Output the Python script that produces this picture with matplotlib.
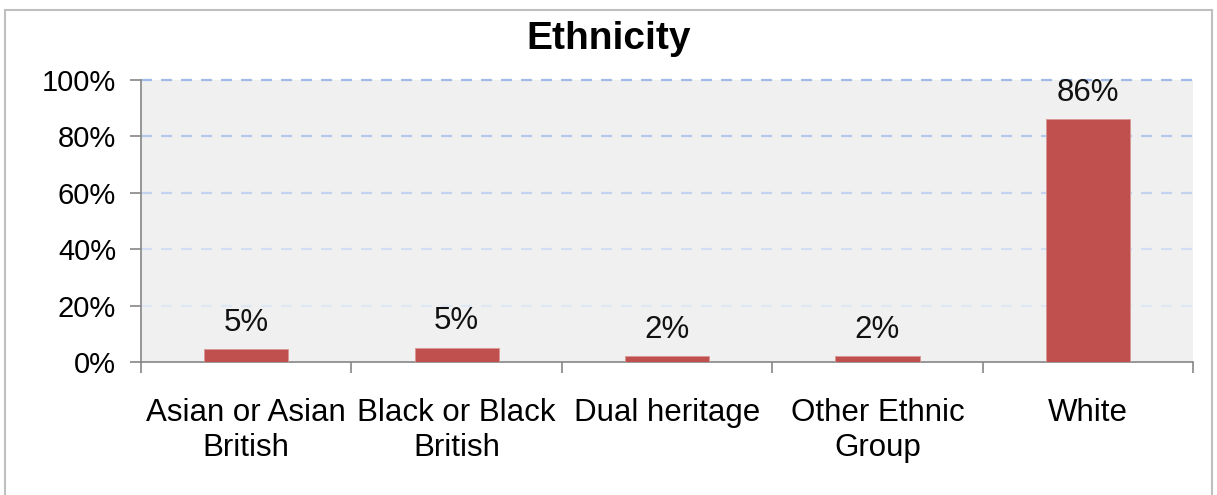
import numpy as np
import matplotlib
matplotlib.use("Agg")
import matplotlib.pyplot as plt
from matplotlib.patches import Rectangle
from matplotlib.ticker import FixedLocator, PercentFormatter

categories = ["Asian or Asian\nBritish", "Black or Black\nBritish", "Dual heritage",
              "Other Ethnic\nGroup", "White"]
values = [4.6, 5.1, 2.0, 2.0, 86.0]
labels = ["5%", "5%", "2%", "2%", "86%"]
yticks = [0, 20, 40, 60, 80, 100]

plt.rcParams["font.family"] = ["Liberation Sans", "DejaVu Sans"]

fig = plt.figure(figsize=(12.17, 4.95), dpi=100)
fig.patches.append(Rectangle((0.004, -0.05), 0.992, 1.03, transform=fig.transFigure,
                             fill=False, edgecolor="#BFBFBF", linewidth=1.5))
ax = fig.add_axes([0.1159, 0.2687, 0.8644, 0.5697])
ax.set_facecolor("#F0F0F0")

x = np.arange(len(categories))
ax.bar(x, values, width=0.4, color="#C0504D", edgecolor="#D99694", linewidth=0.6, zorder=3)
for xi, v, lab in zip(x, values, labels):
    ax.text(xi, v + 4, lab, ha="center", va="bottom", fontsize=22.5, color="#111111", zorder=4)

# gridlines fade from top to bottom
grid_cols = {20: "#E0E7F4", 40: "#D2DEF3", 60: "#C3D3EF", 80: "#B3C8EC", 100: "#A1BBE8"}
for yv, c in grid_cols.items():
    ax.axhline(yv, color=c, linestyle=(0, (5, 4)), linewidth=1.6, zorder=1, clip_on=False)

ax.set_xlim(-0.5, len(categories) - 0.5)
ax.set_ylim(0, 100)
ax.yaxis.set_major_locator(FixedLocator(yticks))
ax.yaxis.set_major_formatter(PercentFormatter(decimals=0))
ax.set_xticks(x)
ax.set_xticklabels(categories, fontsize=22.5, linespacing=1.2)
ax.tick_params(axis="x", length=0, pad=26)
ax.set_xticks(np.arange(-0.5, len(categories)), minor=True)
ax.tick_params(axis="x", which="minor", length=8, color="#868686", width=1.2)
ax.tick_params(axis="y", labelsize=21, length=8, color="#868686", width=1.2, pad=10)

for s in ["top", "right"]:
    ax.spines[s].set_visible(False)
for s in ["left", "bottom"]:
    ax.spines[s].set_color("#868686")
    ax.spines[s].set_linewidth(1.2)

fig.text(0.5, 0.922, "Ethnicity", ha="center", va="center", fontsize=28, fontweight="bold")

fig.savefig("out.png", dpi=100)
